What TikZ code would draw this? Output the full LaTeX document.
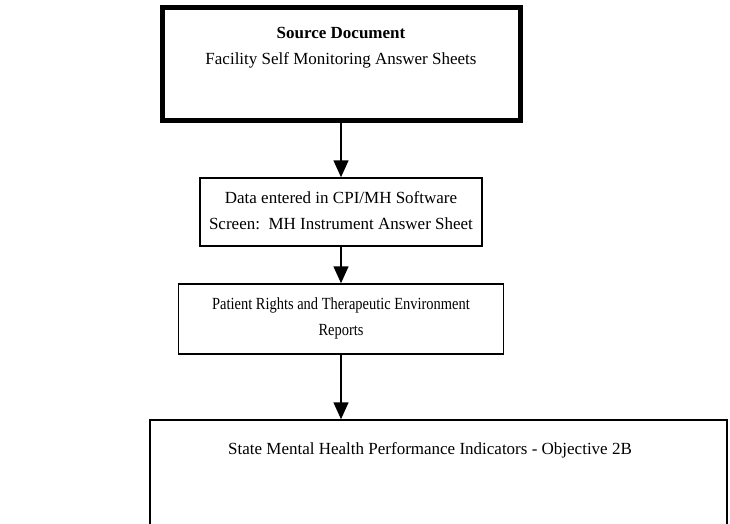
\documentclass[tikz,border=0pt]{standalone}
\usepackage{fontspec}
\setmainfont{Liberation Serif}
\newfontfamily\narrowserif[FakeStretch=0.85]{Liberation Serif}
\usetikzlibrary{arrows.meta}
\begin{document}
\begin{tikzpicture}[x=1pt,y=-1pt,
  thickbox/.style={draw, line width=5pt, inner sep=0pt},
  thinbox/.style={draw, line width=1.5pt, inner sep=0pt},
  txt/.style={font=\fontsize{17}{26}\selectfont, align=center, inner sep=0pt},
  narrowtxt/.style={font=\narrowserif\fontsize{17}{26}\selectfont, align=center, inner sep=0pt},
  arr/.style={-{Triangle[width=15pt,length=17pt]}, line width=1.5pt}]
\useasboundingbox (0,0) rectangle (730,523);
% top box
\node[thickbox, minimum width=358pt, minimum height=113pt] (src) at (341,63.5) {};
\node[txt] (srcT) at (341,48) {\textbf{Source Document}\\Facility Self Monitoring Answer Sheets};
% box 2
\node[thinbox, minimum width=282pt, minimum height=68pt] (data) at (341,212) {};
\node[txt] (dataT) at (341,210.5) {Data entered in CPI/MH Software\\Screen:\ \ MH Instrument Answer Sheet};
% box 3
\node[thinbox, minimum width=325pt, minimum height=70pt] (rep) at (341,319) {};
\node[narrowtxt] (repT) at (341,318) {Patient Rights and Therapeutic Environment\\Reports};
% bottom box (cut off)
\begin{scope}
\clip (0,0) rectangle (730,523);
\node[thinbox, minimum width=577pt, minimum height=140pt] (ind) at (438.5,490) {};
\end{scope}
\node[txt] (indT) at (430,450) {State Mental Health Performance Indicators - Objective 2B};
% arrows
\draw[arr] (src.south) -- (data.north);
\draw[arr] (data.south) -- (rep.north);
\draw[arr] (rep.south) -- (rep.south |- ind.north);
\end{tikzpicture}
\end{document}
